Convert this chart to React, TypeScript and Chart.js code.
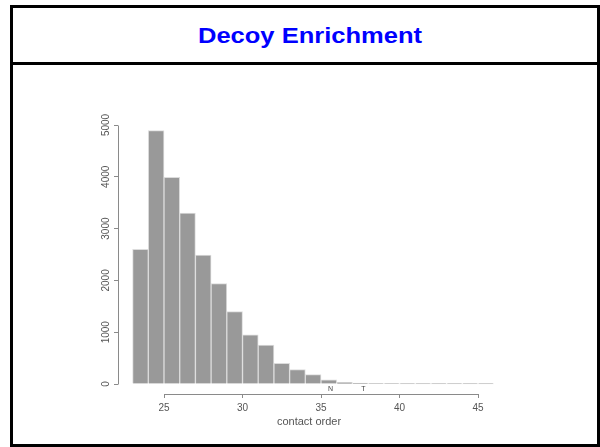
import React, { useEffect, useRef } from 'react';
import { Chart, registerables } from 'chart.js';

Chart.register(...registerables);

const chartTitle = 'Decoy Enrichment';
const xAxisTitle = 'contact order';
const binCenters = [23.5, 24.5, 25.5, 26.5, 27.5, 28.5, 29.5, 30.5, 31.5, 32.5, 33.5, 34.5, 35.5, 36.5, 37.5, 38.5, 39.5, 40.5, 41.5, 42.5, 43.5, 44.5, 45.5];
const counts = [2600, 4890, 3990, 3300, 2490, 1940, 1400, 950, 750, 400, 280, 180, 80, 30, 20, 8, 5, 4, 3, 3, 2, 2, 2];
const xTicks = [25, 30, 35, 40, 45];
const yTicks = [0, 1000, 2000, 3000, 4000, 5000];
const markerLabels = ['N', 'T'];
const markerPositions = [35.6, 37.7];

const FONT = '"Liberation Sans", Arial, Helvetica, sans-serif';

const axisPlugin = {
  id: 'rAxes',
  afterDraw(chart: any) {
    const { ctx, chartArea, scales } = chart;
    const x = scales.x;
    const y = scales.y;
    ctx.save();
    ctx.strokeStyle = '#8a8a8a';
    ctx.lineWidth = 1;
    ctx.beginPath();
    const lx = Math.round(chartArea.left) + 0.5;
    ctx.moveTo(lx, Math.round(y.getPixelForValue(yTicks[0])) + 0.5);
    ctx.lineTo(lx, Math.round(y.getPixelForValue(yTicks[yTicks.length - 1])) + 0.5);
    const by = Math.round(chartArea.bottom) + 0.5;
    ctx.moveTo(Math.round(x.getPixelForValue(xTicks[0])) + 0.5, by);
    ctx.lineTo(Math.round(x.getPixelForValue(xTicks[xTicks.length - 1])) + 0.5, by);
    ctx.stroke();
    ctx.fillStyle = '#444';
    ctx.font = '7px ' + FONT;
    ctx.textAlign = 'center';
    ctx.textBaseline = 'middle';
    markerLabels.forEach((m, i) => {
      ctx.fillText(m, x.getPixelForValue(markerPositions[i]), y.getPixelForValue(0) + 5);
    });
    ctx.restore();
  },
};

export default function App() {
  const ref = useRef<HTMLCanvasElement | null>(null);

  useEffect(() => {
    if (!ref.current) return;
    const chart = new Chart(ref.current, {
      type: 'bar',
      data: {
        datasets: [
          {
            data: binCenters.map((c, i) => ({ x: c, y: counts[i] })),
            backgroundColor: '#999999',
            borderColor: '#dcdcdc',
            borderWidth: 1,
            borderSkipped: 'start',
            barPercentage: 1,
            categoryPercentage: 1,
          },
        ],
      },
      options: {
        responsive: false,
        animation: false,
        layout: { padding: { left: 0, top: 125, right: 100, bottom: 0 } },
        plugins: {
          legend: { display: false },
          tooltip: { enabled: false },
          title: { display: false },
        },
        scales: {
          x: {
            type: 'linear',
            offset: false,
            min: 22.07,
            max: 46.4,
            afterBuildTicks: (s: any) => {
              s.ticks = xTicks.map((v) => ({ value: v }));
            },
            afterFit: (s: any) => {
              s.height = 53;
            },
            border: { display: false },
            grid: {
              display: true,
              offset: false,
              drawOnChartArea: false,
              drawTicks: true,
              tickLength: 4,
              tickColor: '#8a8a8a',
              color: '#8a8a8a',
            },
            ticks: {
              autoSkip: false,
              maxRotation: 0,
              minRotation: 0,
              padding: 4,
              color: '#555',
              font: { family: FONT, size: 10 },
              callback: (v: any) => String(v),
            },
            title: {
              display: true,
              text: xAxisTitle,
              color: '#555',
              font: { family: FONT, size: 11 },
              padding: { top: 0, bottom: 18 },
            },
          },
          y: {
            type: 'linear',
            min: -193,
            max: 5000,
            afterBuildTicks: (s: any) => {
              s.ticks = yTicks.map((v) => ({ value: v }));
            },
            afterFit: (s: any) => {
              s.width = 118;
            },
            border: { display: false },
            grid: {
              display: true,
              drawOnChartArea: false,
              drawTicks: true,
              tickLength: 4,
              tickColor: '#8a8a8a',
              color: '#8a8a8a',
            },
            ticks: {
              autoSkip: false,
              minRotation: 90,
              maxRotation: 90,
              crossAlign: 'center',
              padding: -3,
              color: '#555',
              font: { family: FONT, size: 10 },
              callback: (v: any) => String(v),
            },
          },
        },
      },
      plugins: [axisPlugin],
    } as any);
    return () => chart.destroy();
  }, []);

  return (
    <div
      style={{
        position: 'fixed',
        left: 0,
        top: 0,
        width: 600,
        height: 447,
        background: '#fff',
        overflow: 'hidden',
      }}
    >
      <div
        style={{
          position: 'absolute',
          left: 10,
          top: 5,
          width: 590,
          height: 442,
          border: '3px solid #000',
          boxSizing: 'border-box',
        }}
      />
      <div
        style={{
          position: 'absolute',
          left: 10,
          top: 62,
          width: 590,
          height: 3,
          background: '#000',
        }}
      />
      <div
        style={{
          position: 'absolute',
          left: 10,
          top: 24,
          width: 600,
          textAlign: 'center',
          fontFamily: FONT,
          fontWeight: 'bold',
          fontSize: 22,
          lineHeight: '24px',
          color: '#0000ff',
          transform: 'scaleX(1.16)',
          transformOrigin: '300px 0',
          whiteSpace: 'nowrap',
        }}
      >
        {chartTitle}
      </div>
      <canvas
        ref={ref}
        width={600}
        height={447}
        style={{ position: 'absolute', left: 0, top: 0, width: 600, height: 447, display: 'block' }}
      />
    </div>
  );
}
